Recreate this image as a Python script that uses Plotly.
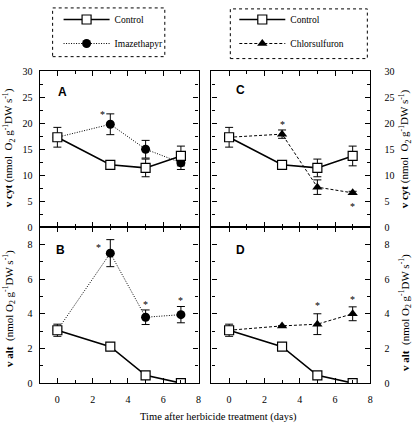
import plotly.graph_objects as go

days = [0, 3, 5, 7]

# Control (shared in all panels)
ctrl_cyt = [17.3, 12.0, 11.4, 13.7]
ctrl_cyt_err = [1.9, 0, 1.7, 1.9]
ctrl_alt = [3.05, 2.1, 0.45, 0.0]
ctrl_alt_err = [0.35, 0, 0, 0]

# Imazethapyr
ima_cyt = [17.3, 19.8, 15.0, 12.4]
ima_cyt_err = [0, 2.0, 1.7, 1.3]
ima_alt = [3.05, 7.5, 3.8, 3.95]
ima_alt_err = [0, 0.78, 0.42, 0.47]

# Chlorsulfuron
chl_cyt = [17.3, 17.9, 7.7, 6.6]
chl_cyt_err = [0, 0.8, 1.4, 0.3]
chl_alt = [3.05, 3.3, 3.4, 4.0]
chl_alt_err = [0, 0, 0.6, 0.4]

# significance stars (x, y) per panel
stars_A = [(2.55, 21.6)]
stars_B = [(2.35, 7.85), (5.0, 4.55), (7.0, 4.75)]
stars_C = [(3.0, 19.8), (7.0, 4.0)]
stars_D = [(5.0, 4.5), (7.0, 4.8)]

# panel labels (letter, x, y)
labels_top = [("A", 0.28, 26.0), ("C", 0.65, 26.4)]
labels_bot = [("B", 0.17, 7.66), ("D", 0.62, 7.7)]

serif = "Liberation Serif"
W, H = 416, 430

fig = go.Figure()

def err(vals):
    return dict(type="data", array=vals, visible=True, color="black", thickness=1, width=4)

def add(y, e, name, style, xa, ya, legend, show):
    if style == "ctrl":
        line = dict(color="black", width=1.6)
        marker = dict(symbol="square", size=9, color="white", line=dict(width=1.2, color="black"))
        rank = 1
    elif style == "ima":
        line = dict(color="black", width=1, dash="1px,1.5px")
        marker = dict(symbol="circle", size=9, color="black")
        rank = 2
    else:
        line = dict(color="black", width=1, dash="3px,2px")
        marker = dict(symbol="triangle-up", size=9, color="black")
        rank = 2
    fig.add_trace(go.Scatter(x=days, y=y, error_y=err(e), mode="lines+markers", name=name,
                             line=line, marker=marker, xaxis=xa, yaxis=ya,
                             legend=legend, legendrank=rank, legendgroup=legend + name,
                             showlegend=show))

# Panel A (x, y), C (x2, y2), B (x3, y3), D (x4, y4)
add(ima_cyt, ima_cyt_err, "Imazethapyr", "ima", "x", "y", "legend", True)
add(ctrl_cyt, ctrl_cyt_err, "Control", "ctrl", "x", "y", "legend", True)
add(ima_alt, ima_alt_err, "Imazethapyr", "ima", "x3", "y3", "legend", False)
add(ctrl_alt, ctrl_alt_err, "Control", "ctrl", "x3", "y3", "legend", False)
add(chl_cyt, chl_cyt_err, "Chlorsulfuron", "chl", "x2", "y2", "legend2", True)
add(ctrl_cyt, ctrl_cyt_err, "Control", "ctrl", "x2", "y2", "legend2", True)
add(chl_alt, chl_alt_err, "Chlorsulfuron", "chl", "x4", "y4", "legend2", False)
add(ctrl_alt, ctrl_alt_err, "Control", "ctrl", "x4", "y4", "legend2", False)

left_dom = [40 / W, 200 / W]
right_dom = [213 / W, 373 / W]
top_dom = [1 - 228 / H, 1 - 68 / H]
bot_dom = [1 - 388 / H, 1 - 228 / H]

tickfont = dict(family=serif, size=10, color="black")

def xax(dom, anchor, labels):
    return dict(domain=dom, anchor=anchor, range=[-1, 8], tickvals=[0, 2, 4, 6, 8],
                ticks="inside", ticklen=5, mirror="ticks", showline=True, linecolor="black",
                linewidth=1.3, showgrid=False, zeroline=False, showticklabels=labels,
                tickfont=tickfont, tickcolor="black", ticklabelstandoff=7,
                minor=dict(ticks="inside", dtick=1, ticklen=3, tickcolor="black", showgrid=False))

def yax(dom, anchor, rng, dt, mdt, side):
    return dict(domain=dom, anchor=anchor, range=rng, dtick=dt, tick0=0, side=side,
                ticks="inside", ticklen=5, mirror="ticks", showline=True, linecolor="black",
                linewidth=1.3, showgrid=False, zeroline=False, tickfont=tickfont, tickcolor="black",
                ticklabelstandoff=(4 if side == "left" else 11),
                minor=dict(ticks="inside", dtick=mdt, ticklen=3, tickcolor="black", showgrid=False))

legfont = dict(family=serif, size=9.5, color="black")
fig.update_layout(
    width=W, height=H, margin=dict(l=0, r=0, t=0, b=0),
    plot_bgcolor="white", paper_bgcolor="white",
    font=dict(family=serif, color="black"),
    xaxis=xax(left_dom, "y", False),
    yaxis=yax(top_dom, "x", [0, 30], 5, 2.5, "left"),
    xaxis2=xax(right_dom, "y2", False),
    yaxis2=yax(top_dom, "x2", [0, 30], 5, 2.5, "right"),
    xaxis3=xax(left_dom, "y3", True),
    yaxis3=yax(bot_dom, "x3", [0, 9], 2, 1, "left"),
    xaxis4=xax(right_dom, "y4", True),
    yaxis4=yax(bot_dom, "x4", [0, 9], 2, 1, "right"),
    legend=dict(x=59 / W, y=1, xanchor="left", yanchor="top", font=legfont,
                bgcolor="rgba(0,0,0,0)", traceorder="grouped", tracegroupgap=5, itemwidth=46),
    legend2=dict(x=236 / W, y=1, xanchor="left", yanchor="top", font=legfont,
                 bgcolor="rgba(0,0,0,0)", traceorder="grouped", tracegroupgap=5, itemwidth=46),
)

# dotted legend boxes
for (x0, y0, x1, y1) in [(53, 3, 166, 53), (232, 4, 370, 55)]:
    fig.add_shape(type="rect", xref="paper", yref="paper",
                  x0=x0 / W, x1=x1 / W, y0=1 - y1 / H, y1=1 - y0 / H,
                  line=dict(color="black", width=1, dash="dot"))

# stars
for stars, xr, yr in [(stars_A, "x", "y"), (stars_B, "x3", "y3"), (stars_C, "x2", "y2"), (stars_D, "x4", "y4")]:
    for sx, sy in stars:
        fig.add_annotation(x=sx, y=sy, xref=xr, yref=yr, text="*", showarrow=False,
                           font=dict(family=serif, size=10, color="black"))

# panel letters
for (letter, lx, ly), xr, yr in zip(labels_top + labels_bot, ["x", "x2", "x3", "x4"], ["y", "y2", "y3", "y4"]):
    fig.add_annotation(x=lx, y=ly, xref=xr, yref=yr, text="<b>" + letter + "</b>", showarrow=False,
                       xanchor="center", font=dict(family="Liberation Sans", size=12, color="black"))

cyt_title = "<b>v cyt</b> (nmol  O<sub>2</sub> g<sup>-1</sup>DW s<sup>-1</sup>)"
alt_title = "<b>v alt</b>  (nmol O<sub>2</sub> g<sup>-1</sup>DW s<sup>-1</sup>)"
for txt, xp, yp in [(cyt_title, 9, 146), (alt_title, 9, 311), (cyt_title, 408, 148), (alt_title, 408, 316)]:
    fig.add_annotation(x=xp / W, y=1 - yp / H, xref="paper", yref="paper", text=txt, showarrow=False,
                       textangle=-90, xanchor="center", yanchor="middle",
                       font=dict(family=serif, size=11, color="black"))

fig.add_annotation(x=220 / W, y=1 - 423 / H, xref="paper", yref="paper", yanchor="middle",
                   text="Time after herbicide treatment (days)", showarrow=False,
                   font=dict(family=serif, size=10.5, color="black"))

fig.write_html("out.html", post_script="document.body.style.margin='0';",
               config={"displayModeBar": False})
